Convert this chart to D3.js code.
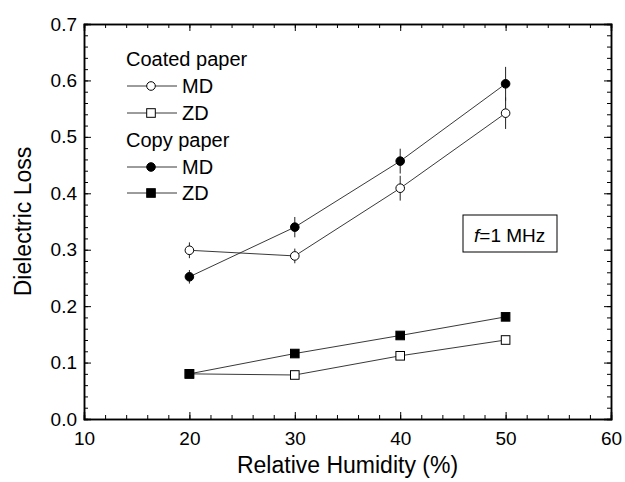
<!DOCTYPE html>
<html>
<head>
<meta charset="utf-8">
<script src="https://cdn.jsdelivr.net/npm/d3@7"></script>
<style>
  body { margin: 0; background: #fff; }
  svg { font-family: Arial, "Liberation Sans", sans-serif; }
  .axis path { stroke: #000; stroke-width: 1.5; }
  .axis line { stroke: #000; stroke-width: 1; }
</style>
</head>
<body>
<svg width="625" height="482"></svg>
<script>
// values
var humidity = [20, 30, 40, 50];
var coatedMD = [0.299, 0.289, 0.409, 0.542];
var coatedMDErr = [0.014, 0.013, 0.022, 0.028];
var coatedZD = [0.080, 0.078, 0.112, 0.140];
var copyMD = [0.252, 0.340, 0.457, 0.594];
var copyMDErr = [0.012, 0.018, 0.022, 0.030];
var copyZD = [0.080, 0.116, 0.148, 0.181];

var xTicks = [10, 20, 30, 40, 50, 60];
var yTicks = [0.0, 0.1, 0.2, 0.3, 0.4, 0.5, 0.6, 0.7];

var margin = {top: 24, right: 14, bottom: 63, left: 84},
    width = 625,
    height = 482,
    drawWidth = width - margin.left - margin.right,
    drawHeight = height - margin.top - margin.bottom;

var svg = d3.select("svg");
var g = svg.append("g").attr("transform", "translate(" + margin.left + "," + margin.top + ")");

var xScale = d3.scaleLinear().domain([10, 60]).range([0, drawWidth]);
var yScale = d3.scaleLinear().domain([0, 0.7]).range([drawHeight, 0]);

var xMinor = d3.range(10, 60.1, 2);
var yMinor = d3.range(0, 0.701, 0.02);

// minor ticks first (no labels)
g.append("g").attr("class", "axis").attr("transform", "translate(0," + drawHeight + ")")
    .call(d3.axisBottom(xScale).tickValues(xMinor).tickSize(-4).tickFormat(""));
g.append("g").attr("class", "axis")
    .call(d3.axisTop(xScale).tickValues(xMinor).tickSize(-4).tickFormat(""));
g.append("g").attr("class", "axis")
    .call(d3.axisLeft(yScale).tickValues(yMinor).tickSize(-4).tickFormat(""));
g.append("g").attr("class", "axis").attr("transform", "translate(" + drawWidth + ",0)")
    .call(d3.axisRight(yScale).tickValues(yMinor).tickSize(-4).tickFormat(""));

// major ticks
var xAxis = g.append("g").attr("class", "axis").attr("transform", "translate(0," + drawHeight + ")")
    .call(d3.axisBottom(xScale).tickValues(xTicks).tickSize(-7).tickPadding(8).tickFormat(d3.format("d")));
xAxis.selectAll("text").attr("font-size", 19).attr("fill", "#000").attr("dy", "0.95em");
g.append("g").attr("class", "axis")
    .call(d3.axisTop(xScale).tickValues(xTicks).tickSize(-7).tickFormat(""));
var yAxis = g.append("g").attr("class", "axis")
    .call(d3.axisLeft(yScale).tickValues(yTicks).tickSize(-7).tickPadding(7).tickFormat(d3.format(".1f")));
yAxis.selectAll("text").attr("font-size", 19).attr("fill", "#000");
g.append("g").attr("class", "axis").attr("transform", "translate(" + drawWidth + ",0)")
    .call(d3.axisRight(yScale).tickValues(yTicks).tickSize(-7).tickFormat(""));
g.selectAll(".axis .domain").attr("stroke-width", 1.5);

// axis titles
svg.append("text")
    .attr("x", margin.left + drawWidth / 2).attr("y", 473)
    .attr("text-anchor", "middle").attr("font-size", 23)
    .text("Relative Humidity (%)");
svg.append("text")
    .attr("transform", "translate(31," + (margin.top + drawHeight / 2) + ") rotate(-90)")
    .attr("text-anchor", "middle").attr("font-size", 23)
    .text("Dielectric Loss");

var series = [
    {values: coatedMD, err: coatedMDErr, shape: "circle", filled: false},
    {values: coatedZD, err: null, shape: "square", filled: false},
    {values: copyMD, err: copyMDErr, shape: "circle", filled: true},
    {values: copyZD, err: null, shape: "square", filled: true}
];

var line = d3.line()
    .x(function(d, i) { return xScale(humidity[i]); })
    .y(function(d) { return yScale(d); });

series.forEach(function(s) {
    g.append("path")
        .attr("d", line(s.values))
        .attr("fill", "none")
        .attr("stroke", "#222")
        .attr("stroke-width", 0.9);
});

series.forEach(function(s) {
    if (!s.err) return;
    g.selectAll(null).data(s.values).enter().append("line")
        .attr("x1", function(d, i) { return xScale(humidity[i]); })
        .attr("x2", function(d, i) { return xScale(humidity[i]); })
        .attr("y1", function(d, i) { return yScale(d - s.err[i]); })
        .attr("y2", function(d, i) { return yScale(d + s.err[i]); })
        .attr("stroke", "#222")
        .attr("stroke-width", 1);
});

function drawMarker(sel, shape, filled) {
    if (shape === "circle") {
        sel.append("circle").attr("r", 4.3);
    } else {
        sel.append("rect").attr("x", -4.3).attr("y", -4.3).attr("width", 8.6).attr("height", 8.6);
    }
    sel.selectAll("circle, rect")
        .attr("fill", filled ? "#000" : "#fff")
        .attr("stroke", "#000")
        .attr("stroke-width", 1);
}

series.forEach(function(s) {
    var pts = g.selectAll(null).data(s.values).enter().append("g")
        .attr("transform", function(d, i) { return "translate(" + xScale(humidity[i]) + "," + yScale(d) + ")"; });
    drawMarker(pts, s.shape, s.filled);
});

// legend
var legend = svg.append("g").attr("font-size", 20);
var legendRows = [
    {type: "title", text: "Coated paper", y: 66},
    {type: "item", s: series[0], text: "MD", y: 86},
    {type: "item", s: series[1], text: "ZD", y: 113},
    {type: "title", text: "Copy paper", y: 147},
    {type: "item", s: series[2], text: "MD", y: 167},
    {type: "item", s: series[3], text: "ZD", y: 193}
];
legendRows.forEach(function(r) {
    if (r.type === "title") {
        legend.append("text").attr("x", 126).attr("y", r.y).text(r.text);
    } else {
        legend.append("line").attr("x1", 127).attr("x2", 177).attr("y1", r.y).attr("y2", r.y)
            .attr("stroke", "#222").attr("stroke-width", 0.9);
        var m = legend.append("g").attr("transform", "translate(151," + r.y + ")");
        drawMarker(m, r.s.shape, r.s.filled);
        legend.append("text").attr("x", 182).attr("y", r.y + 7).text(r.text);
    }
});

// frequency note
svg.append("rect")
    .attr("x", 463).attr("y", 215).attr("width", 94).attr("height", 37)
    .attr("fill", "#fff").attr("stroke", "#000").attr("stroke-width", 1);
var note = svg.append("text").attr("x", 474).attr("y", 242).attr("font-size", 19);
note.append("tspan").attr("font-style", "italic").text("f");
note.append("tspan").text("=1 MHz");
</script>
</body>
</html>
